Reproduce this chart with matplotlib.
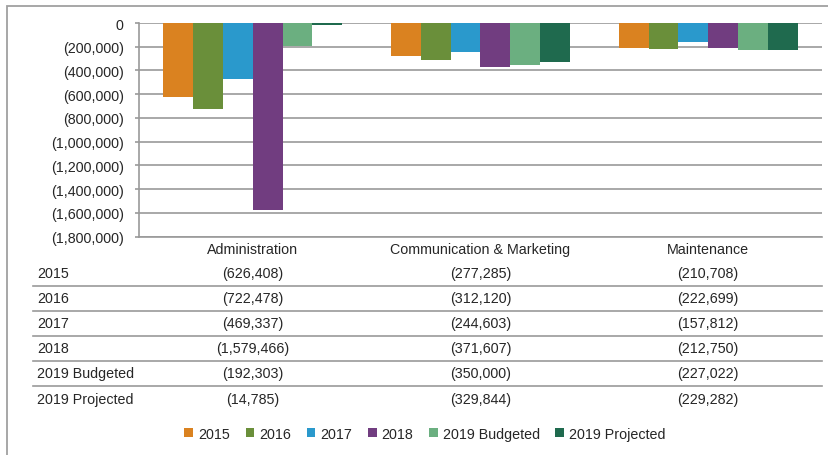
import numpy as np
import matplotlib.pyplot as plt
from matplotlib.patches import Patch, Rectangle
from matplotlib.lines import Line2D
from matplotlib.ticker import FuncFormatter, MultipleLocator
from matplotlib.transforms import blended_transform_factory

# data
categories = ["Administration", "Communication & Marketing", "Maintenance"]
series = ["2015", "2016", "2017", "2018", "2019 Budgeted", "2019 Projected"]
v2015 = [-626408, -277285, -210708]
v2016 = [-722478, -312120, -222699]
v2017 = [-469337, -244603, -157812]
v2018 = [-1579466, -371607, -212750]
v2019_budget = [-192303, -350000, -227022]
v2019_proj = [-14785, -329844, -229282]
values = [v2015, v2016, v2017, v2018, v2019_budget, v2019_proj]
colors = ["#DA8220", "#6A8F3A", "#2A99CC", "#713D80", "#6BAF80", "#1F6A4E"]

W, H = 829, 456
plt.rcParams["font.family"] = ["Liberation Sans", "DejaVu Sans"]
txt = "#262626"
grid_c = "#9a9a9a"
fs = 10.3


def fmt(v, pos=None):
    if v == 0:
        return "0"
    s = f"{abs(v):,.0f}"
    return f"({s})" if v < 0 else s


def fx(x):
    return x / W


def fy(y):
    return 1 - y / H


fig = plt.figure(figsize=(W / 100, H / 100), dpi=100)

# outer border (right and bottom sides fall outside the picture)
fig.add_artist(Rectangle((fx(7), fy(470)), fx(840), (470 - 7) / H, transform=fig.transFigure,
                         fill=False, edgecolor="#a0a0a0", lw=1.3))

ax = fig.add_axes([fx(139), fy(237.5), fx(822 - 139), (237.5 - 24) / H])
x = np.arange(len(categories))
bw = 0.131
for i, (name, vals) in enumerate(zip(series, values)):
    ax.bar(x + (i - 2.5) * bw, vals, width=bw, color=colors[i], label=name, zorder=3)

ax.set_xlim(-0.5, len(categories) - 0.5)
ax.set_ylim(-1800000, 0)
ax.yaxis.set_major_locator(MultipleLocator(200000))
ax.yaxis.set_major_formatter(FuncFormatter(fmt))
ax.grid(axis="y", color=grid_c, lw=1.2, zorder=0)
ax.set_xticks([])
ax.tick_params(axis="y", length=3, width=1.2, color=grid_c, pad=8, labelsize=fs, labelcolor=txt)
for s in ["top", "right"]:
    ax.spines[s].set_visible(False)
for s in ["left", "bottom"]:
    ax.spines[s].set_color(grid_c)
    ax.spines[s].set_linewidth(1.2)

# data table below
trans = blended_transform_factory(ax.transData, fig.transFigure)
for j, c in enumerate(categories):
    fig.text(x[j], fy(250), c, transform=trans, ha="center", va="center", fontsize=fs, color=txt)

row_y = [274, 299, 324, 349, 374, 400]
line_y = [287, 312, 337, 362, 387]
for i, name in enumerate(series):
    fig.text(fx(37), fy(row_y[i]), name, ha="left", va="center", fontsize=fs, color=txt)
    for j in range(len(categories)):
        fig.text(x[j], fy(row_y[i]), fmt(values[i][j]), transform=trans,
                 ha="center", va="center", fontsize=fs, color=txt)
for ly in line_y:
    fig.add_artist(Line2D([fx(33), fx(822)], [fy(ly), fy(ly)], transform=fig.transFigure,
                          color=grid_c, lw=1.2))

handles = [Patch(facecolor=c, label=n) for c, n in zip(colors, series)]
fig.legend(handles=handles, loc="center", bbox_to_anchor=(fx(425), fy(435)), ncol=6,
           frameon=False, fontsize=fs, handlelength=0.6, handleheight=0.6,
           handletextpad=0.35, columnspacing=1.1, labelcolor=txt)

fig.savefig("out.png", dpi=100)
